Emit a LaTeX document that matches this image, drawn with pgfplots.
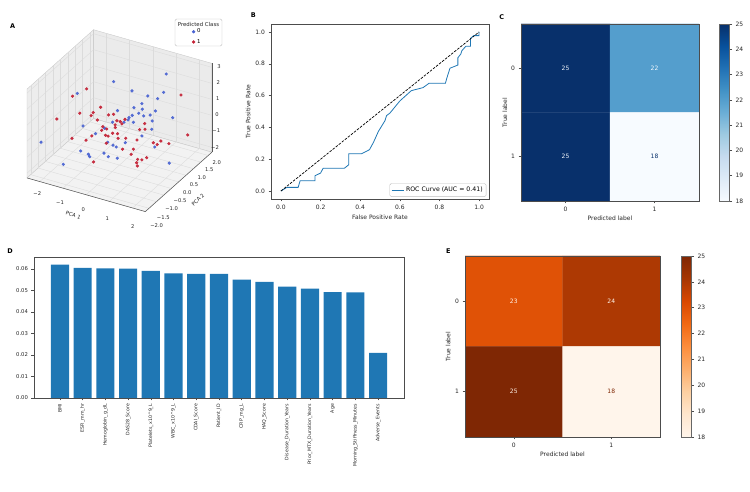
\documentclass[border=0pt]{standalone}
\usepackage{fontspec}
\setmainfont{DejaVu Sans}
\usepackage{pgfplots}
\pgfplotsset{compat=1.18}

\definecolor{mplblue}{RGB}{31,119,180}
\definecolor{cwblue}{RGB}{72,98,210}
\definecolor{cwred}{RGB}{196,32,52}
\definecolor{bluesLight}{RGB}{247,251,255}
\definecolor{bluesDark}{RGB}{8,48,107}
\definecolor{orangesLight}{RGB}{255,245,235}
\definecolor{orangesDark}{RGB}{127,39,4}

\pgfplotsset{
  colormap={mplBlues}{rgb255=(247,251,255) rgb255=(222,235,247) rgb255=(198,219,239) rgb255=(158,202,225) rgb255=(107,174,214) rgb255=(66,146,198) rgb255=(33,113,181) rgb255=(8,81,156) rgb255=(8,48,107)},
  colormap={mplOranges}{rgb255=(255,245,235) rgb255=(254,230,206) rgb255=(253,208,162) rgb255=(253,174,107) rgb255=(253,141,60) rgb255=(241,105,19) rgb255=(217,72,1) rgb255=(166,54,3) rgb255=(127,39,4)},
  mpl/.style={
    scale only axis,
    axis line style={black!70, line width=0.5pt},
    tick align=outside,
    major tick length=2.5pt,
    tick style={black!70, line width=0.5pt},
    xtick pos=left, ytick pos=left,
    /pgf/number format/assume math mode=true,
    tick label style={font=\fontsize{6}{7}\selectfont, color=black!85},
    label style={font=\fontsize{6}{7}\selectfont, color=black!85},
  },
  cbar/.style={
    colorbar,
    colorbar style={
      at={(parent axis.north east)}, anchor=north west, xshift=#1,
      width=10pt, scale only axis,
      ytick={18,19,...,25}, ytick pos=right, yticklabel pos=right,
      tick align=outside, major tick length=2.5pt,
      axis line style={black!60, line width=0.5pt},
      tick style={black!70, line width=0.5pt},
      /pgf/number format/assume math mode=true,
      yticklabel style={font=\fontsize{6}{7}\selectfont, color=black!85},
    },
  },
}

\begin{document}
\begin{tikzpicture}[x=1pt,y=1pt]

% ---------------- A: PCA scatter in 3D ----------------
\begin{axis}[
  at={(27pt,280.4pt)}, anchor=south west,
  x={(23.2pt,-6.6pt)}, y={(14.8pt,13.2pt)}, z={(0pt,16pt)},
  xmin=-2.55, xmax=2.55, ymin=-2.25, ymax=2.25, zmin=-2.3, zmax=3.25,
  xtick={-2,-1,0,1,2}, ytick={-2,-1.5,-1,-0.5,0,0.5,1,1.5,2}, ztick={-2,-1,0,1,2,3},
  xticklabels={}, yticklabels={}, zticklabels={},
  major tick length=0pt,
  grid=major, grid style={black!14, line width=0.35pt},
  axis line style={draw=none},
  set layers, clip=false,
]
% panes
\addplot3[fill=black!7, draw=black!22, line width=0.35pt, on layer=axis background, forget plot]
  coordinates {(-2.55,-2.25,-2.3) (-2.55,2.25,-2.3) (-2.55,2.25,3.25) (-2.55,-2.25,3.25) (-2.55,-2.25,-2.3)};
\addplot3[fill=black!8, draw=black!22, line width=0.35pt, on layer=axis background, forget plot]
  coordinates {(-2.55,2.25,-2.3) (2.55,2.25,-2.3) (2.55,2.25,3.25) (-2.55,2.25,3.25) (-2.55,2.25,-2.3)};
\addplot3[fill=black!5, draw=black!22, line width=0.35pt, on layer=axis background, forget plot]
  coordinates {(-2.55,-2.25,-2.3) (2.55,-2.25,-2.3) (2.55,2.25,-2.3) (-2.55,2.25,-2.3) (-2.55,-2.25,-2.3)};
% axis lines
\addplot3[black!65, line width=0.5pt, forget plot] coordinates {(-2.55,-2.25,-2.3) (2.55,-2.25,-2.3)};
\addplot3[black!65, line width=0.5pt, forget plot] coordinates {(2.55,-2.25,-2.3) (2.55,2.25,-2.3)};
\addplot3[black!65, line width=0.5pt, forget plot] coordinates {(2.55,2.25,-2.3) (2.55,2.25,3.25)};
% predicted class 0
\addplot3[only marks, mark=*, mark size=1.4pt, color=cwblue, opacity=0.9] coordinates {
(0.97,1.64,2.44) (-0.55,0.47,2.30) (0.17,0.58,1.93) (1.47,0.68,2.29) (0.82,0.63,1.84)
(0.72,1.45,0.95) (1.03,-0.10,2.05) (0.23,0.62,0.87) (0.85,0.21,1.37) (1.04,0.80,0.85)
(-0.44,0.56,0.46) (0.94,-0.17,1.47) (0.18,0.58,0.40) (0.89,0.24,0.94) (0.89,0.68,0.63)
(1.16,1.78,-0.33) (0.66,-0.39,1.26) (0.06,0.49,0.14) (-0.01,-0.45,0.75) (0.13,0.10,0.35)
(0.02,0.91,-0.37) (1.33,0.13,0.90) (0.74,1.02,-0.60) (0.84,0.20,-0.30) (0.17,0.13,-0.94)
(-0.57,0.46,-1.67) (0.29,-0.67,-0.50) (0.83,1.08,-1.72) (0.13,-0.35,-1.53) (1.82,0.51,-1.85)
(-1.60,-0.34,1.80) (-0.67,-1.41,1.03) (-0.62,-0.03,-0.23) (-0.50,-0.83,0.14) (-2.27,-1.74,-0.37)
(-0.72,0.34,-1.45) (-0.74,-1.46,-0.52) (-1.09,-0.39,-1.75) (-0.67,-0.96,-1.26) (-0.45,-0.34,-1.46)
(0.06,-0.85,-1.05) (-1.24,-1.85,-1.24)
};
% predicted class 1
\addplot3[only marks, mark=*, mark size=1.4pt, color=cwred, opacity=0.9] coordinates {
(-0.95,-0.73,2.67) (-1.74,-0.44,1.65) (-0.16,-1.02,2.09) (-1.34,-0.58,0.87) (-0.57,-0.88,1.47)
(-0.82,-0.63,0.97) (-0.70,0.36,0.25) (-1.43,-1.99,1.63) (-0.83,-0.19,0.33) (-0.29,-0.67,0.53)
(-0.51,-0.40,-0.01) (-0.75,0.32,-0.62) (-0.02,-0.91,0.30) (-0.52,0.05,-0.75) (-0.61,-0.91,0.02)
(-1.37,-1.06,-0.32) (-1.35,-0.14,-1.19) (0.00,-0.89,-0.20) (-0.56,-0.87,-1.62) (1.97,1.07,2.01)
(-0.17,-0.13,0.91) (-0.22,0.72,-0.13) (0.31,-0.66,1.14) (-0.17,0.32,0.08) (0.26,-0.24,0.58)
(0.73,0.56,0.13) (-0.51,0.51,-0.42) (0.26,-0.69,0.72) (0.39,0.75,-0.54) (0.93,0.27,0.10)
(-0.20,-0.15,-0.27) (-0.44,0.56,-0.98) (1.97,1.52,-0.86) (-0.01,0.44,-0.99) (0.70,0.09,-0.52)
(-0.04,-0.03,-0.62) (0.60,1.35,-1.77) (1.58,0.32,-0.41) (0.90,1.14,-1.59) (1.62,0.80,-0.95)
(0.09,0.07,-1.33) (0.02,0.91,-2.05) (0.72,-0.34,-1.05) (0.72,0.10,-1.73) (1.03,-0.10,-1.47)
(0.79,0.60,-2.01) (0.88,-0.22,-1.61) (0.90,-0.20,-1.82)
};
\end{axis}

% tick labels and axis titles of the 3D panel
\begin{scope}[every node/.style={font=\fontsize{5.2}{6}\selectfont, text=black!85, inner sep=0pt}]
\node at (37.3,298.7) {−2};
\node at (60,289.7) {−1};
\node at (83.3,282) {0};
\node at (107.3,273.7) {1};
\node at (132.7,265.3) {2};
\node at (216.7,329.7) {2.0};
\node at (209.3,322) {1.5};
\node at (201.7,314.7) {1.0};
\node at (194,307) {0.5};
\node at (187.3,299.3) {0.0};
\node at (180,291.3) {−0.5};
\node at (171.7,283) {−1.0};
\node at (163.3,274.7) {−1.5};
\node at (156.7,266) {−2.0};
\node at (219,425.3) {3};
\node at (218.3,409.7) {2};
\node at (217.7,393) {1};
\node at (217,377) {0};
\node at (216.3,361) {−1};
\node at (215,344.7) {−2};
\node[rotate=-19] at (73.3,277) {PCA 1};
\node[rotate=45] at (198,292) {PCA 2};
\end{scope}

% legend of the 3D panel
\draw[black!25, line width=0.4pt, rounded corners=1.5pt, fill=white] (175,446) rectangle (222,473);
\node[font=\fontsize{5.4}{6}\selectfont, text=black!85] at (198.5,467.5) {Predicted Class};
\begin{axis}[
  at={(175pt,446pt)}, anchor=south west, scale only axis, width=47pt, height=27pt,
  hide axis, xmin=0, xmax=1, ymin=0, ymax=1,
  legend style={at={(0.36,0.34)}, anchor=west, draw=none, fill=none, inner sep=0pt,
    font=\fontsize{5.4}{6}\selectfont, row sep=0.8pt, cells={anchor=west}},
  legend image code/.code={\draw[#1] plot coordinates {(1.5pt,0pt)};},
]
\addlegendimage{only marks, mark=*, mark size=1.5pt, cwblue}
\addlegendentry{0}
\addlegendimage{only marks, mark=*, mark size=1.5pt, cwred}
\addlegendentry{1}
\end{axis}

% ---------------- B: ROC curve ----------------
\begin{axis}[mpl,
  at={(271pt,293pt)}, anchor=south west, width=218pt, height=175pt,
  xmin=-0.05, xmax=1.05, ymin=-0.05, ymax=1.05,
  xtick={0,0.2,0.4,0.6,0.8,1}, ytick={0,0.2,0.4,0.6,0.8,1},
  xticklabel style={/pgf/number format/fixed, /pgf/number format/fixed zerofill, /pgf/number format/precision=1},
  yticklabel style={/pgf/number format/fixed, /pgf/number format/fixed zerofill, /pgf/number format/precision=1},
  xlabel={False Positive Rate}, ylabel={True Positive Rate},
  xlabel style={at={(axis description cs:0.5,-0.103)}, anchor=center},
  ylabel style={at={(axis description cs:-0.105,0.5)}, anchor=center},
  legend style={at={(0.988,0.012)}, anchor=south east, draw=black!25, rounded corners=1.5pt,
    font=\fontsize{6.2}{7}\selectfont, inner sep=1.5pt},
  legend image code/.code={\draw[#1] (0pt,0pt) -- (12pt,0pt);},
]
\addplot[mplblue, line width=0.8pt] coordinates {
(0,0) (0.03,0.023) (0.087,0.023) (0.097,0.065) (0.172,0.065) (0.172,0.096) (0.2,0.113)
(0.213,0.143) (0.32,0.143) (0.342,0.165) (0.342,0.235) (0.408,0.235) (0.447,0.26)
(0.467,0.306) (0.492,0.375) (0.525,0.442) (0.533,0.474) (0.55,0.49) (0.6,0.566)
(0.658,0.631) (0.717,0.65) (0.747,0.677) (0.83,0.677) (0.837,0.709) (0.853,0.772)
(0.893,0.792) (0.893,0.838) (0.908,0.862) (0.913,0.882) (0.933,0.91) (0.957,0.91)
(0.957,0.96) (0.973,0.977) (1.0,0.977) (1.0,1.0)
};
\addlegendentry{ROC Curve (AUC = 0.41)}
\addplot[black, line width=0.7pt, dash pattern=on 2.6pt off 1.3pt, forget plot] coordinates {(0,0) (1,1)};
\end{axis}

% ---------------- C: confusion matrix (blues) ----------------
\begin{axis}[mpl,
  at={(521pt,291pt)}, anchor=south west, width=178pt, height=177pt,
  xmin=-0.5, xmax=1.5, ymin=-0.5, ymax=1.5, y dir=reverse,
  xtick={0,1}, ytick={0,1}, axis on top,
  xlabel={Predicted label}, ylabel={True label},
  xlabel style={at={(axis description cs:0.5,-0.096)}, anchor=center},
  ylabel style={at={(axis description cs:-0.09,0.5)}, anchor=center},
  colormap name=mplBlues, point meta min=18, point meta max=25,
  cbar=12pt, colorbar style={height=177pt},
]
\addplot[matrix plot*, mesh/cols=2, point meta=explicit] coordinates {
(0,0) [25] (1,0) [22]
(0,1) [25] (1,1) [18]
};
\node[text=bluesLight, font=\fontsize{6}{7}\selectfont] at (axis cs:0,0) {25};
\node[text=bluesLight, font=\fontsize{6}{7}\selectfont] at (axis cs:1,0) {22};
\node[text=bluesLight, font=\fontsize{6}{7}\selectfont] at (axis cs:0,1) {25};
\node[text=bluesDark, font=\fontsize{6}{7}\selectfont] at (axis cs:1,1) {18};
\end{axis}

% ---------------- D: feature importances ----------------
\begin{axis}[mpl,
  at={(34pt,94pt)}, anchor=south west, width=370pt, height=141pt,
  xmin=-1.14, xmax=15.14, ymin=0, ymax=0.0656,
  ybar, bar width=0.8,
  xtick={0,1,...,14},
  xticklabels={BMI, ESR\_mm\_hr, Hemoglobin\_g\_dL, DAS28\_Score, Platelets\_x10\textasciicircum 9\_L,
    WBC\_x10\textasciicircum 9\_L, CDAI\_Score, Patient\_ID, CRP\_mg\_L, HAQ\_Score,
    Disease\_Duration\_Years, Prior\_MTX\_Duration\_Years, Age, Morning\_Stiffness\_Minutes, Adverse\_Events},
  xticklabel style={rotate=90, anchor=east, font=\fontsize{4.7}{5.5}\selectfont},
  ytick={0,0.01,0.02,0.03,0.04,0.05,0.06}, scaled y ticks=false,
  yticklabel style={/pgf/number format/fixed, /pgf/number format/fixed zerofill,
    /pgf/number format/precision=2, font=\fontsize{5.3}{6}\selectfont},
]
\addplot[fill=mplblue, draw=none] coordinates {
(0,0.0620) (1,0.0605) (2,0.0603) (3,0.0602) (4,0.0591) (5,0.0580) (6,0.0578) (7,0.0577)
(8,0.0551) (9,0.0540) (10,0.0518) (11,0.0509) (12,0.0492) (13,0.0491) (14,0.0210)
};
\end{axis}

% ---------------- E: confusion matrix (oranges) ----------------
\begin{axis}[mpl,
  at={(465pt,55pt)}, anchor=south west, width=195pt, height=181pt,
  xmin=-0.5, xmax=1.5, ymin=-0.5, ymax=1.5, y dir=reverse,
  xtick={0,1}, ytick={0,1}, axis on top,
  xlabel={Predicted label}, ylabel={True label},
  xlabel style={at={(axis description cs:0.5,-0.094)}, anchor=center},
  ylabel style={at={(axis description cs:-0.087,0.5)}, anchor=center},
  colormap name=mplOranges, point meta min=18, point meta max=25,
  cbar=13pt, colorbar style={height=181pt},
]
\addplot[matrix plot*, mesh/cols=2, point meta=explicit] coordinates {
(0,0) [23] (1,0) [24]
(0,1) [25] (1,1) [18]
};
\node[text=orangesLight, font=\fontsize{6}{7}\selectfont] at (axis cs:0,0) {23};
\node[text=orangesLight, font=\fontsize{6}{7}\selectfont] at (axis cs:1,0) {24};
\node[text=orangesLight, font=\fontsize{6}{7}\selectfont] at (axis cs:0,1) {25};
\node[text=orangesDark, font=\fontsize{6}{7}\selectfont] at (axis cs:1,1) {18};
\end{axis}

% panel letters
\begin{scope}[every node/.style={font=\bfseries\fontsize{6.5}{7}\selectfont, inner sep=0pt}]
\node at (12.7,466) {A};
\node at (253.3,477) {B};
\node at (501.7,475.3) {C};
\node at (10,241.3) {D};
\node at (448.3,241.3) {E};
\end{scope}

% page frame
\pgfresetboundingbox
\useasboundingbox (0,0) rectangle (750,492);
\end{tikzpicture}
\end{document}
